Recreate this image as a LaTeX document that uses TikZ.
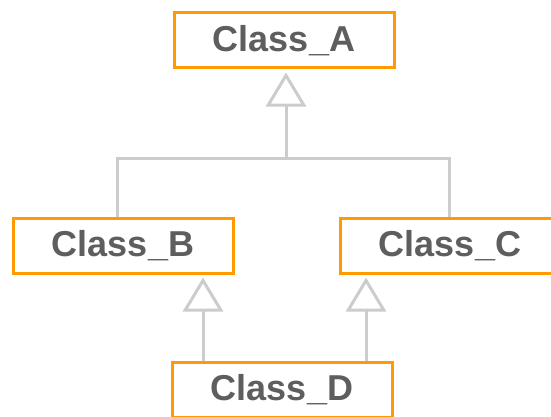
\documentclass[tikz,border=0pt]{standalone}
\usepackage{fontspec}
\setmainfont{Liberation Sans}
\usetikzlibrary{arrows.meta}
\definecolor{boxorange}{HTML}{FF9A00}
\definecolor{linegray}{HTML}{CCCCCC}
\definecolor{textgray}{HTML}{5E5E5E}
\tikzset{
  classbox/.style={draw=boxorange, line width=3pt, fill=white, minimum width=220pt, minimum height=55pt,
    inner sep=0pt, text=textgray, font=\fontsize{36}{42}\selectfont\bfseries},
  conn/.style={draw=linegray, line width=3pt},
  inh/.style={conn, -{Triangle[open, length=34pt, width=40pt, fill=white]}, shorten >=3pt}
}
\begin{document}
\begin{tikzpicture}[x=1pt,y=1pt]
\useasboundingbox (0,0) rectangle (551,416);
\fill[white] (0,0) rectangle (551,416);
\begin{scope}
\clip (0,0) rectangle (551,416);
\node[classbox] (A) at (284,375.5) {Class\_A};
\node[classbox] (B) at (123,170.5) {Class\_B};
\node[classbox] (C) at (450,170.5) {Class\_C};
\node[classbox] (D) at (282,26) {Class\_D};
\coordinate (hub) at (286,258);
\draw[conn] ([xshift=-6pt]B.north) |- (hub) -| ([xshift=-1pt]C.north);
\draw[inh] (hub) -- (hub |- A.south);
\draw[inh] ([xshift=-79pt]D.north) -- ([xshift=-79pt]D.north |- B.south);
\draw[inh] ([xshift=84pt]D.north) -- ([xshift=84pt]D.north |- C.south);
\end{scope}
\end{tikzpicture}
\end{document}
